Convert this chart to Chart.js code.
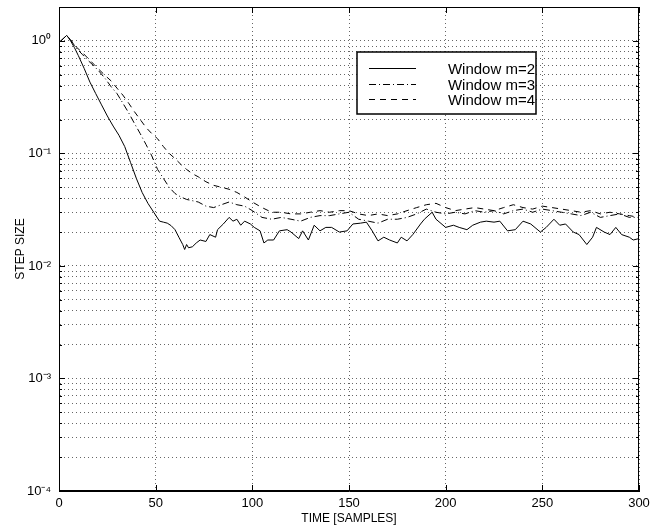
<!DOCTYPE html>
<html>
<head>
<meta charset="utf-8">
<script src="https://cdn.jsdelivr.net/npm/chart.js@4.4.1/dist/chart.umd.min.js"></script>
<style>
  body { margin: 0; background: #fff; }
  #wrap { width: 663px; height: 526px; }
</style>
</head>
<body>
<div id="wrap"><canvas id="step-chart" width="663" height="526"></canvas></div>
<script>
// window m=2 (solid line)
var time2 = [1, 4, 6, 8, 10, 13, 16, 19, 22, 25, 28, 31, 34, 37, 40, 43, 46, 49, 52, 54,
  56, 58, 60, 62, 64, 65, 66, 67, 69, 71, 73, 76, 78, 81, 82, 85, 88, 90, 92, 94,
  96, 99, 101, 104, 106, 108, 111, 114, 118, 120, 124, 126, 129, 132, 135, 138, 141, 145, 149, 152,
  156, 159, 162, 165, 168, 171, 175, 177, 180, 183, 187, 189, 193, 195, 200, 204, 207, 211, 214, 218,
  221, 225, 228, 232, 236, 240, 244, 249, 252, 256, 259, 262, 266, 269, 273, 276, 278, 282, 285, 288,
  291, 295, 297, 300];
var step2 = [1.0, 1.12, 1.0, 0.87, 0.74, 0.57, 0.43, 0.34, 0.27, 0.215, 0.175, 0.145, 0.115, 0.083, 0.06, 0.045, 0.036, 0.03, 0.025, 0.0245,
  0.024, 0.0228, 0.021, 0.018, 0.0155, 0.014, 0.0155, 0.0145, 0.0148, 0.016, 0.017, 0.0165, 0.019, 0.018, 0.021, 0.0236, 0.027, 0.025, 0.026, 0.023,
  0.025, 0.0236, 0.022, 0.0205, 0.016, 0.017, 0.017, 0.0205, 0.021, 0.020, 0.0175, 0.0205, 0.017, 0.023, 0.0205, 0.022, 0.022, 0.020, 0.0205, 0.0236,
  0.024, 0.0245, 0.0205, 0.0167, 0.018, 0.017, 0.016, 0.018, 0.0167, 0.019, 0.0236, 0.026, 0.030, 0.026, 0.022, 0.023, 0.022, 0.021, 0.023, 0.0245,
  0.025, 0.0245, 0.025, 0.0205, 0.021, 0.025, 0.0236, 0.020, 0.022, 0.026, 0.023, 0.0236, 0.020, 0.019, 0.0155, 0.018, 0.022, 0.020, 0.019, 0.022,
  0.019, 0.018, 0.017, 0.0175];

// windows m=3 and m=4 share the same sample times
var time34 = [1, 4, 6, 9, 12, 15, 18, 21, 24, 27, 30, 33, 36, 39, 42, 45, 48, 51, 54, 57,
  60, 63, 66, 69, 72, 76, 80, 84, 88, 92, 96, 100, 105, 110, 115, 120, 125, 130, 135, 140,
  145, 150, 155, 160, 165, 170, 175, 180, 185, 190, 195, 200, 205, 210, 215, 220, 225, 230, 235, 240,
  245, 250, 255, 260, 265, 270, 275, 280, 285, 290, 295, 300];
var step3 = [1.0, 1.12, 1.02, 0.86, 0.76, 0.67, 0.6, 0.53, 0.46, 0.39, 0.34, 0.28, 0.23, 0.185, 0.15, 0.12, 0.095, 0.072, 0.06, 0.05,
  0.044, 0.041, 0.039, 0.038, 0.037, 0.034, 0.033, 0.035, 0.037, 0.035, 0.034, 0.031, 0.027, 0.026, 0.027, 0.026, 0.025, 0.027, 0.028, 0.028,
  0.029, 0.030, 0.026, 0.025, 0.024, 0.026, 0.026, 0.027, 0.029, 0.032, 0.030, 0.029, 0.030, 0.029, 0.031, 0.030, 0.031, 0.029, 0.031, 0.032,
  0.030, 0.032, 0.031, 0.030, 0.029, 0.028, 0.030, 0.027, 0.028, 0.029, 0.027, 0.027];
var step4 = [1.0, 1.12, 1.02, 0.88, 0.79, 0.7, 0.62, 0.55, 0.49, 0.44, 0.38, 0.33, 0.28, 0.235, 0.2, 0.17, 0.15, 0.135, 0.115, 0.1,
  0.09, 0.08, 0.072, 0.066, 0.062, 0.056, 0.052, 0.050, 0.048, 0.045, 0.041, 0.037, 0.033, 0.030, 0.030, 0.029, 0.029, 0.030, 0.031, 0.030,
  0.031, 0.031, 0.029, 0.028, 0.029, 0.028, 0.029, 0.031, 0.033, 0.035, 0.036, 0.033, 0.031, 0.032, 0.033, 0.032, 0.031, 0.033, 0.035, 0.033,
  0.032, 0.034, 0.033, 0.032, 0.031, 0.030, 0.031, 0.029, 0.030, 0.029, 0.028, 0.027];

var seriesLabels = ['Window m=2', 'Window m=3', 'Window m=4'];
var xTicks = [0, 50, 100, 150, 200, 250, 300];
var decades = [0.0001, 0.001, 0.01, 0.1, 1];
var decadeLabels = ['10\u207B\u2074', '10\u207B\u00B3', '10\u207B\u00B2', '10\u207B\u00B9', '10\u2070'];
var mantissas = [1, 2, 3, 4, 5, 6, 7, 8, 9];

function toPoints(ts, vs) {
    return ts.map(function (t, i) { return { x: t, y: vs[i] }; });
}

// every 1..9 x 10^k line of the log grid
var yGrid = [];
decades.forEach(function (d) {
    mantissas.forEach(function (m) {
        if (m * d <= 2) yGrid.push(m === 1 ? d : m * d);
    });
});

var FONT = '"Liberation Sans", Arial, sans-serif';
Chart.defaults.font.family = FONT;
Chart.defaults.color = '#000';

// box round the plot with inward tick marks, like the original
var boxTicks = {
    id: 'boxTicks',
    afterDraw: function (chart) {
        var ctx = chart.ctx, a = chart.chartArea;
        var xs = chart.scales.x, ys = chart.scales.y;
        ctx.save();
        ctx.strokeStyle = '#000';
        ctx.lineWidth = 1;
        ctx.strokeRect(Math.round(a.left) + 0.5, Math.round(a.top) + 0.5,
            Math.round(a.right - a.left) - 1, Math.round(a.bottom - a.top) - 1);
        ctx.beginPath();
        xs.ticks.forEach(function (t) {
            var px = Math.round(xs.getPixelForValue(t.value)) + 0.5;
            ctx.moveTo(px, a.bottom); ctx.lineTo(px, a.bottom - 6);
            ctx.moveTo(px, a.top); ctx.lineTo(px, a.top + 6);
        });
        ys.ticks.forEach(function (t) {
            var py = Math.round(ys.getPixelForValue(t.value)) + 0.5;
            var len = decades.indexOf(t.value) >= 0 ? 6 : 3;
            ctx.moveTo(a.left, py); ctx.lineTo(a.left + len, py);
            ctx.moveTo(a.right, py); ctx.lineTo(a.right - len, py);
        });
        ctx.stroke();
        ctx.restore();
    }
};

// boxed legend: sample line on the left, label right aligned
var boxLegend = {
    id: 'boxLegend',
    afterDraw: function (chart) {
        var ctx = chart.ctx;
        ctx.save();
        ctx.fillStyle = '#fff';
        ctx.fillRect(357, 52, 179, 62);
        ctx.strokeStyle = '#000';
        ctx.lineWidth = 1.5;
        ctx.strokeRect(357, 52, 179, 62);
        ctx.font = '15px ' + FONT;
        ctx.textAlign = 'right';
        ctx.textBaseline = 'middle';
        chart.data.datasets.forEach(function (ds, i) {
            var y = Math.round(68 + i * 15.5) + 0.5;
            ctx.beginPath();
            ctx.lineWidth = 1;
            ctx.setLineDash(ds.borderDash || []);
            ctx.moveTo(369, y);
            ctx.lineTo(416, y);
            ctx.stroke();
            ctx.setLineDash([]);
            ctx.fillStyle = '#000';
            ctx.fillText(ds.label, 535, y + 1);
        });
        ctx.restore();
    }
};

var lineStyle = { borderColor: '#000', borderWidth: 1, pointRadius: 0, tension: 0, fill: false };

var ctx = document.getElementById('step-chart');
var stepChart = new Chart(ctx, {
    type: 'line',
    data: {
        datasets: [
            Object.assign({ label: seriesLabels[0], data: toPoints(time2, step2), borderDash: [] }, lineStyle),
            Object.assign({ label: seriesLabels[1], data: toPoints(time34, step3), borderDash: [7, 3, 1, 3] }, lineStyle),
            Object.assign({ label: seriesLabels[2], data: toPoints(time34, step4), borderDash: [6, 5] }, lineStyle)
        ]
    },
    options: {
        responsive: false,
        devicePixelRatio: 1,
        animation: false,
        layout: { padding: { left: 0, right: 24, top: 7, bottom: 0 } },
        plugins: { legend: { display: false }, tooltip: { enabled: false } },
        scales: {
            x: {
                type: 'linear',
                min: 0,
                max: 300,
                afterBuildTicks: function (s) { s.ticks = xTicks.map(function (v) { return { value: v }; }); },
                afterFit: function (s) { s.height = 35; s.paddingLeft = 0; s.paddingRight = 0; },
                ticks: { font: { size: 13 }, padding: 5, maxRotation: 0, autoSkip: false, color: '#000' },
                grid: { color: 'rgba(0,0,0,0.6)', drawTicks: false },
                border: { display: true, color: '#000', dash: [1, 3] },
                title: { display: true, text: 'TIME [SAMPLES]', font: { size: 12 }, padding: { top: 0, bottom: 0 }, color: '#000' }
            },
            y: {
                type: 'logarithmic',
                min: 0.0001,
                max: 2,
                afterBuildTicks: function (s) { s.ticks = yGrid.map(function (v) { return { value: v }; }); },
                afterFit: function (s) { s.width = 59; s.paddingTop = 0; s.paddingBottom = 0; },
                ticks: {
                    font: { size: 13 },
                    padding: 8,
                    autoSkip: false,
                    color: '#000',
                    callback: function (value) {
                        var i = decades.indexOf(value);
                        return i >= 0 ? decadeLabels[i] : '';
                    }
                },
                grid: { color: 'rgba(0,0,0,0.6)', drawTicks: false },
                border: { display: true, color: '#000', dash: [1, 3] },
                title: { display: true, text: 'STEP SIZE', font: { size: 12 }, padding: { top: 13, bottom: 0 }, color: '#000' }
            }
        }
    },
    plugins: [boxTicks, boxLegend]
});
</script>
</body>
</html>
